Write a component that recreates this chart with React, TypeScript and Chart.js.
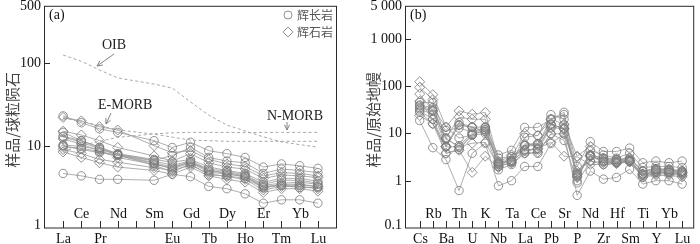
import React, { useEffect, useRef } from "react";
import { Chart, registerables } from "chart.js";
Chart.register(...registerables);

// ---------- Panel (a): REE, chondrite normalised ----------
const reeElements = ["La", "Ce", "Pr", "Nd", "", "Sm", "Eu", "Gd", "Tb", "Dy", "Ho", "Er", "Tm", "Yb", "Lu"];
const reeYTicks = [1, 10, 100, 500];

const gabbroREE1 = [23, 19, 16, 14.5, null, 11.5, 9.5, 11, 8.7, 8, 7.2, 5.5, 6, 5.7, 5.3];
const gabbroREE2 = [14.5, 11.5, 9.5, 8, null, 6.8, 6.3, 6.8, 5.5, 5, 4.6, 3.6, 4, 4, 3.7];
const gabbroREE3 = [12.8, 11, 9.2, 7.8, null, 6.5, 5.8, 6.5, 5.2, 4.9, 4.4, 3.4, 3.8, 3.8, 3.5];
const gabbroREE4 = [10.2, 9.8, 9, 7.8, null, 6.2, 5.5, 6.4, 5, 4.7, 4.3, 3.3, 3.5, 3.6, 3.4];
const gabbroREE5 = [9.7, 9.3, 8.5, 7.6, null, 6.1, 5.2, 6.2, 4.8, 4.5, 4.2, 3.2, 3.3, 3.3, 3.2];
const gabbroREE6 = [10, 9, 8.2, 7.7, null, 5.8, 4.8, 6, 4.4, 4.3, 4, 3.1, 3.3, 3.1, 3.1];
const gabbroREE7 = [4.6, 4.3, 3.9, 3.9, null, 3.8, 4.5, 4.2, 3.2, 3, 2.6, 2, 2.2, 2.2, 2.0];
const gabbroREE8 = [13, 11.5, 9.6, 7.9, null, 6.6, 7.6, 9.5, 7.2, 6.5, 6.2, 4.6, 5.2, 5, 4.7];

const pyroxREE1 = [22, 20, 17, 15.5, null, 10, 8.2, 8.7, 6.8, 6, 5.6, 4.3, 4.7, 4.6, 4.3];
const pyroxREE2 = [15, 13.5, 11.5, 9.5, null, 7.5, 6.5, 8, 6.2, 5.5, 5.2, 4, 4.4, 4.3, 4.1];
const pyroxREE3 = [8.4, 7.2, 6.2, 5.5, null, 5, 4.5, 5.5, 4.3, 3.9, 3.6, 2.7, 3, 3, 2.8];
const pyroxREE4 = [9, 8, 6.8, 6.3, null, 5.4, 5, 5.8, 4.6, 4.2, 3.9, 2.9, 3.2, 3.2, 3];
const pyroxREE5 = [12, 10.5, 8.6, 7.2, null, 5.9, 5.4, 6.3, 5, 4.6, 4.2, 3.1, 3.4, 3.4, 3.2];

const oibREE = [126, 106, 83, 66.5, null, 56, 50, 34, 23.5, 17.8, 15.1, 12.8, 11.1, 10.3, 9.6];
const emorbREE = [21.5, 19.9, 17.5, 15.6, null, 13.8, 12.7, 11.7, 11.5, 11.3, 11.3, 11.3, 11.3, 11.3, 11.3];
const nmorbREE = [8.5, 10, 11.3, 12.6, null, 13.9, 14.3, 14.5, 14.5, 14.5, 14.4, 14.5, 14.5, 14.5, 14.5];

// ---------- Panel (b): trace elements, primitive mantle normalised ----------
const traceElements = ["Cs", "Rb", "Ba", "Th", "U", "K", "Nb", "Ta", "La", "Ce", "Pb", "Sr", "P", "Nd", "Zr", "Hf", "Sm", "Ti", "Y", "Yb", "Lu"];
const traceYTicks = [0.1, 1, 10, 100, 1000, 5000];
const traceYTickLabels = ["0.1", "1", "10", "100", "1 000", "5 000"];

const gabbroTE1 = [35, 30, 8, 5, 9.5, 12, 2.3, 2.5, 4.5, 4.5, 13, 15, 1.3, 3.4, 2.6, 2.6, 2.7, 1.4, 1.7, 1.6, 1.5];
const gabbroTE2 = [38, 32, 7.5, 5.5, 10, 13, 2.2, 2.6, 4.2, 4.8, 15, 13, 1.4, 3.3, 2.5, 2.4, 2.6, 1.3, 1.6, 1.5, 1.45];
const gabbroTE3 = [30, 20, 5.2, 15, 13.6, 11, 2.5, 2.7, 5.6, 6, 20, 28, 1.2, 3.5, 3.0, 2.8, 3.0, 1.6, 1.8, 1.7, 1.6];
const gabbroTE4 = [18.7, 5, 2.8, 0.62, 3.8, 6.2, 0.78, 1.0, 2.0, 2.0, 6.1, 9.8, 0.49, 1.6, 1.08, 1.17, 1.75, 0.85, 1.0, 1.0, 0.85];
const gabbroTE5 = [33, 25, 11.6, 13, 10.7, 13.6, 2.0, 2.4, 8.3, 9, 25, 20, 1.0, 4.4, 3.5, 3.0, 3.8, 1.9, 2.0, 2.0, 1.9];
const gabbroTE6 = [40, 35, 13.6, 8, 9.2, 11.8, 3.0, 3.2, 5.6, 6.1, 15.7, 12.5, 1.46, 3.5, 3.0, 2.8, 2.8, 1.6, 1.75, 1.75, 1.6];
const gabbroTE7 = [28, 16, 3.8, 4.6, 9.2, 10, 1.7, 2.2, 3.8, 3.8, 9.8, 7.1, 0.9, 2.6, 2.2, 2.4, 2.6, 1.17, 1.48, 1.48, 1.37];
const gabbroTE8 = [45, 45, 5.3, 17, 13.6, 13.6, 3.5, 4.4, 13.4, 13.4, 20, 25, 2.0, 6.7, 4.15, 4.15, 4.9, 2.4, 2.6, 2.4, 2.6];

const pyroxTE1 = [124, 66, 13.6, 30, 25.5, 27.8, 2.6, 3.2, 10, 9, 20, 15.7, 3.3, 5.3, 3.0, 2.8, 3.0, 1.6, 1.75, 1.75, 1.6];
const pyroxTE2 = [94, 52, 7.8, 22, 20, 20, 2.2, 2.8, 6, 6, 15.7, 12.5, 1.39, 3.3, 2.6, 2.5, 2.6, 1.37, 1.5, 1.5, 1.4];
const pyroxTE3 = [48, 20, 3.8, 4.4, 1.5, 3.3, 1.9, 3.5, 4.4, 4.8, 6.5, 3.3, 3.2, 2.2, 2.2, 2.3, 2.5, 1.2, 1.3, 1.3, 1.2];
const pyroxTE4 = [68, 30, 5.3, 15, 13.6, 10.7, 2.4, 2.6, 5.5, 5.5, 13.4, 12.5, 1.2, 3.4, 2.8, 2.6, 2.7, 1.4, 1.6, 1.6, 1.5];
const pyroxTE5 = [24, 16, 5.2, 5.2, 6.2, 6.5, 2.0, 2.4, 3.8, 4.0, 9.8, 9.8, 1.6, 2.6, 2.4, 2.4, 2.5, 1.3, 1.4, 1.4, 1.3];

// ---------- helpers ----------
const LINE = "#999999";
const MARK = "#777777";
const SERIF = '"Liberation Serif", "DejaVu Serif", serif';
const CJK = '"Noto Sans CJK SC", "Noto Sans", sans-serif';

function pts(vals: (number | null)[]) {
  return vals.map((v, i) => ({ x: i, y: v }));
}
function sample(vals: (number | null)[], style: string) {
  return {
    data: pts(vals),
    borderColor: LINE,
    borderWidth: 0.8,
    pointStyle: style,
    pointRadius: style === "circle" ? 4.2 : 5,
    pointBorderColor: MARK,
    pointBorderWidth: 0.8,
    pointBackgroundColor: "rgba(255,255,255,0)",
    spanGaps: true,
    fill: false,
  };
}
function refLine(vals: (number | null)[]) {
  return {
    data: pts(vals),
    borderColor: "#a8a8a8",
    borderWidth: 1,
    borderDash: [3, 2.5],
    pointRadius: 0,
    spanGaps: true,
    fill: false,
  };
}

function arrow(ctx: CanvasRenderingContext2D, x1: number, y1: number, x2: number, y2: number) {
  ctx.save();
  ctx.strokeStyle = "#777";
  ctx.lineWidth = 0.9;
  ctx.beginPath();
  ctx.moveTo(x1, y1);
  ctx.lineTo(x2, y2);
  const a = Math.atan2(y2 - y1, x2 - x1);
  const h = 6;
  ctx.moveTo(x2 - h * Math.cos(a - 0.45), y2 - h * Math.sin(a - 0.45));
  ctx.lineTo(x2, y2);
  ctx.lineTo(x2 - h * Math.cos(a + 0.45), y2 - h * Math.sin(a + 0.45));
  ctx.stroke();
  ctx.restore();
}

type PanelOpts = {
  labels: string[];
  yTicks: number[];
  yTickLabels: string[];
  yTitle: string;
  panelLabel: string;
  extra?: (ctx: CanvasRenderingContext2D, chart: any) => void;
};

function axesPlugin(o: PanelOpts) {
  return {
    id: "customAxes",
    afterDraw(chart: any) {
      const { ctx, chartArea: ca, scales } = chart;
      const xs = scales.x;
      const ys = scales.y;
      ctx.save();
      // frame
      ctx.strokeStyle = "#2a2a2a";
      ctx.lineWidth = 1;
      ctx.strokeRect(ca.left + 0.5, ca.top + 0.5, ca.right - ca.left - 1, ca.bottom - ca.top - 0.5);
      // x ticks and labels
      ctx.fillStyle = "#111";
      ctx.font = `14px ${SERIF}`;
      ctx.textAlign = "center";
      ctx.textBaseline = "middle";
      o.labels.forEach((lab, i) => {
        const px = Math.round(xs.getPixelForValue(i)) + 0.5;
        ctx.beginPath();
        ctx.moveTo(px, ca.bottom);
        ctx.lineTo(px, ca.bottom - 7);
        ctx.stroke();
        if (!lab) return;
        if (i % 2 === 1) ctx.fillText(lab, px, ca.bottom - 14);
        else ctx.fillText(lab, px, ca.bottom + 11);
      });
      // y ticks and labels
      ctx.textAlign = "right";
      o.yTicks.forEach((t, i) => {
        const py = Math.round(ys.getPixelForValue(t)) + 0.5;
        if (py > ca.top + 3 && py < ca.bottom - 2) {
          ctx.beginPath();
          ctx.moveTo(ca.left, py);
          ctx.lineTo(ca.left + 6, py);
          ctx.stroke();
        }
        const ly = Math.min(Math.max(py, 5), ca.bottom - 3);
        ctx.fillText(o.yTickLabels[i], ca.left - 3, ly);
      });
      // panel label
      ctx.textAlign = "left";
      ctx.font = `14px ${SERIF}`;
      ctx.fillText(o.panelLabel, ca.left + 5, 15);
      // y title
      ctx.save();
      ctx.translate(ca.left - 32, (ca.top + ca.bottom) / 2 + 3);
      ctx.rotate(-Math.PI / 2);
      ctx.textAlign = "center";
      ctx.fillStyle = "#444";
      ctx.font = `15px ${CJK}`;
      ctx.fillText(o.yTitle, 0, 0);
      ctx.restore();
      if (o.extra) o.extra(ctx, chart);
      ctx.restore();
    },
  };
}

function usePanel(
  ref: React.RefObject<HTMLCanvasElement | null>,
  datasets: any[],
  o: PanelOpts,
  xMin: number,
  xMax: number,
  yMin: number,
  yMax: number,
  padding: any
) {
  useEffect(() => {
    if (!ref.current) return;
    const chart = new Chart(ref.current, {
      type: "line",
      data: { datasets },
      options: {
        animation: false,
        responsive: false,
        maintainAspectRatio: false,
        layout: { padding },
        plugins: { legend: { display: false }, tooltip: { enabled: false } },
        scales: {
          x: { type: "linear", min: xMin, max: xMax, display: false },
          y: { type: "logarithmic", min: yMin, max: yMax, display: false },
        },
      },
      plugins: [axesPlugin(o)],
    } as any);
    return () => chart.destroy();
  }, []);
}

export default function App() {
  const refA = useRef<HTMLCanvasElement>(null);
  const refB = useRef<HTMLCanvasElement>(null);

  const dsA = [
    refLine(oibREE),
    refLine(emorbREE),
    refLine(nmorbREE),
    ...[gabbroREE1, gabbroREE2, gabbroREE3, gabbroREE4, gabbroREE5, gabbroREE6, gabbroREE7, gabbroREE8].map((v) => sample(v, "circle")),
    ...[pyroxREE1, pyroxREE2, pyroxREE3, pyroxREE4, pyroxREE5].map((v) => sample(v, "rectRot")),
  ];
  const dsB = [
    ...[gabbroTE1, gabbroTE2, gabbroTE3, gabbroTE4, gabbroTE5, gabbroTE6, gabbroTE7, gabbroTE8].map((v) => sample(v, "circle")),
    ...[pyroxTE1, pyroxTE2, pyroxTE3, pyroxTE4, pyroxTE5].map((v) => sample(v, "rectRot")),
  ];

  usePanel(
    refA,
    dsA,
    {
      labels: reeElements,
      yTicks: reeYTicks,
      yTickLabels: reeYTicks.map(String),
      yTitle: "样品/球粒陨石",
      panelLabel: "(a)",
      extra: (ctx) => {
        ctx.fillStyle = "#222";
        ctx.font = `14px ${SERIF}`;
        ctx.textAlign = "left";
        ctx.textBaseline = "middle";
        ctx.fillText("OIB", 102, 45);
        ctx.fillText("E-MORB", 98, 105);
        ctx.fillText("N-MORB", 267, 116);
        arrow(ctx, 114, 54, 97, 66);
        arrow(ctx, 111, 113, 106, 124);
        arrow(ctx, 287, 122, 287, 130);
        // legend
        ctx.strokeStyle = MARK;
        ctx.lineWidth = 0.8;
        ctx.beginPath();
        ctx.arc(288, 15, 4, 0, Math.PI * 2);
        ctx.stroke();
        ctx.beginPath();
        ctx.moveTo(288, 27);
        ctx.lineTo(293, 32);
        ctx.lineTo(288, 37);
        ctx.lineTo(283, 32);
        ctx.closePath();
        ctx.stroke();
        ctx.fillStyle = "#555";
        ctx.font = `12px ${CJK}`;
        ctx.fillText("辉长岩", 297, 15);
        ctx.fillText("辉石岩", 297, 32);
      },
    },
    -1.05,
    15.05,
    1,
    500,
    { left: 44, right: 13, top: 1, bottom: 16 }
  );

  usePanel(
    refB,
    dsB,
    {
      labels: traceElements,
      yTicks: traceYTicks,
      yTickLabels: traceYTickLabels,
      yTitle: "样品/原始地幔",
      panelLabel: "(b)",
    },
    -1.12,
    20.92,
    0.1,
    5000,
    { left: 55, right: 3, top: 1, bottom: 16 }
  );

  return (
    <div style={{ position: "absolute", left: 0, top: 0, width: 700, height: 244, background: "#fff" }}>
      <canvas ref={refA} width={350} height={244} style={{ position: "absolute", left: 0, top: 0 }} />
      <canvas ref={refB} width={350} height={244} style={{ position: "absolute", left: 350, top: 0 }} />
    </div>
  );
}
